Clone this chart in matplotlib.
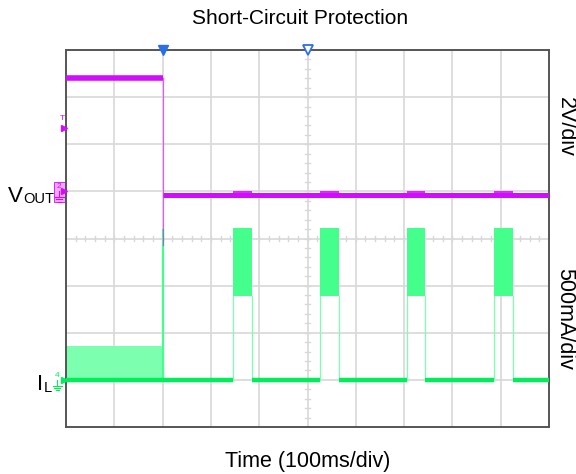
import matplotlib
matplotlib.use("Agg")
import matplotlib.pyplot as plt
from matplotlib.patches import Rectangle

plt.rcParams['font.family'] = ['Liberation Sans', 'DejaVu Sans']

# scope screen: 10 horizontal divisions x 8 vertical divisions
n_xdiv = 10
n_ydiv = 8

# channel 2 (V_OUT), in divisions from the bottom of the screen
vout_ground = 5.0
vout_high = 7.41
vout_low = 4.93
vout_dip = 3.87
short_time = 2.0

# channel 4 (I_L)
il_ground = 1.0
il_ripple_top = 1.72
il_spike_top = 4.18
pulse_starts = [3.45, 5.26, 7.05, 8.87]
pulse_ends = [3.85, 5.65, 7.44, 9.26]
pulse_top = 4.22
pulse_body_bottom = 2.79

trigger_level = 6.35

magenta = '#d20cff'
green_line = '#00ee5a'
green_fill = '#44ff8c'
green_light = '#7dffb0'
grid_col = '#d8d8d8'

fig = plt.figure(figsize=(5.76, 4.74), dpi=100)
ax = fig.add_axes([66 / 576, 47 / 474, 483 / 576, 377 / 474])
ax.set_xlim(0, n_xdiv)
ax.set_ylim(0, n_ydiv)

# graticule
for gx in range(1, n_xdiv):
    ax.axvline(gx, color=grid_col, lw=1.2, zorder=0)
for gy in range(1, n_ydiv):
    ax.axhline(gy, color=grid_col, lw=1.2, zorder=0)
cx, cy = n_xdiv / 2, n_ydiv / 2
for k in range(1, n_xdiv * 5):
    ax.plot([k / 5, k / 5], [cy - 0.05, cy + 0.05], color=grid_col, lw=1, zorder=0)
for k in range(1, n_ydiv * 5):
    ax.plot([cx - 0.05, cx + 0.05], [k / 5, k / 5], color=grid_col, lw=1, zorder=0)

# ---- I_L trace ----
ax.fill_between([0, short_time], il_ground, il_ripple_top, color=green_light, lw=0, zorder=2)
ax.plot([short_time, short_time], [il_ground, il_spike_top], color=green_fill, lw=1.6, zorder=3)
seg_starts = [0] + pulse_ends
seg_ends = pulse_starts + [n_xdiv]
for a, b in zip(seg_starts, seg_ends):
    ax.plot([a, b], [il_ground, il_ground], color=green_line, lw=3.2, zorder=3,
            solid_capstyle='butt')
for a, b in zip(pulse_starts, pulse_ends):
    ax.fill_between([a, b], pulse_body_bottom, pulse_top, color=green_fill, lw=0, zorder=2)
    for e in (a, b):
        ax.plot([e, e], [il_ground, pulse_body_bottom], color=green_light, lw=0.9, zorder=2)

# ---- V_OUT trace ----
ax.plot([0, short_time], [vout_high, vout_high], color=magenta, lw=4, zorder=4,
        solid_capstyle='butt')
ax.plot([short_time, short_time], [vout_dip, vout_high], color=magenta, lw=0.9,
        alpha=0.6, zorder=4)
ax.plot([short_time, n_xdiv], [vout_low, vout_low], color=magenta, lw=3.6, zorder=4,
        solid_capstyle='butt')
for a, b in zip(pulse_starts, pulse_ends):
    ax.fill_between([a, b], vout_low - 0.07, vout_low + 0.08, color=magenta, lw=0,
                    alpha=0.85, zorder=4)

for s in ax.spines.values():
    s.set_color('#555555')
    s.set_linewidth(1.4)
ax.set_xticks([])
ax.set_yticks([])

# top markers (trigger position / delay)
ax.plot(short_time, n_ydiv, marker='v', ms=7, color='#2a6fe8', clip_on=False, zorder=6)
ax.plot(cx, n_ydiv, marker='v', ms=7, mfc='white', mec='#2a6fe8', mew=1.3,
        clip_on=False, zorder=6)


def ground_icon(x, y, color):
    # small ground symbol drawn below the channel number
    ax.plot([x, x], [y, y - 0.12], color=color, lw=0.8, clip_on=False, zorder=6)
    for i, half in enumerate([0.09, 0.06, 0.03]):
        yy = y - 0.12 - i * 0.05
        ax.plot([x - half, x + half], [yy, yy], color=color, lw=0.8, clip_on=False, zorder=6)


# channel markers on the left edge
ax.plot(-0.05, trigger_level, marker='>', ms=5, color=magenta, clip_on=False, zorder=6)
ax.text(-0.08, trigger_level + 0.12, 'T', color=magenta, fontsize=6,
        ha='center', va='bottom')
ax.add_patch(Rectangle((-0.25, vout_ground - 0.22), 0.22, 0.42, transform=ax.transData,
                       facecolor='#f0a8ff', edgecolor=magenta, lw=0.6, clip_on=False))
ax.text(-0.14, vout_ground + 0.02, '2', color=magenta, fontsize=6, ha='center', va='bottom')
ground_icon(-0.14, vout_ground, magenta)
ax.plot(-0.04, vout_ground, marker='>', ms=4, color=magenta, clip_on=False, zorder=6)
ax.text(-0.18, il_ground + 0.02, '4', color=green_line, fontsize=6, ha='center', va='bottom')
ground_icon(-0.18, il_ground, green_line)
ax.plot(-0.04, il_ground, marker='>', ms=4, color=green_line, clip_on=False, zorder=6)

# labels
fig.text(300 / 576, 1 - 19 / 474, 'Short-Circuit Protection', fontsize=15,
         ha='center', va='center')
fig.text(308 / 576, 1 - 461 / 474, 'Time (100ms/div)', fontsize=15.5,
         ha='center', va='center')
fig.text(565 / 576, 1 - 127 / 474, '2V/div', fontsize=15.5, rotation=-90,
         ha='center', va='center')
fig.text(565 / 576, 1 - 319 / 474, '500mA/div', fontsize=15.5, rotation=-90,
         ha='center', va='center')
fig.text(8 / 576, 1 - 202 / 474, 'V', fontsize=16, ha='left', va='baseline')
fig.text(23 / 576, 1 - 203 / 474, 'OUT', fontsize=10.5, ha='left', va='baseline')
fig.text(37 / 576, 1 - 390 / 474, 'I', fontsize=16, ha='left', va='baseline')
fig.text(44 / 576, 1 - 392 / 474, 'L', fontsize=10.5, ha='left', va='baseline')

fig.savefig('out.png', dpi=100)
